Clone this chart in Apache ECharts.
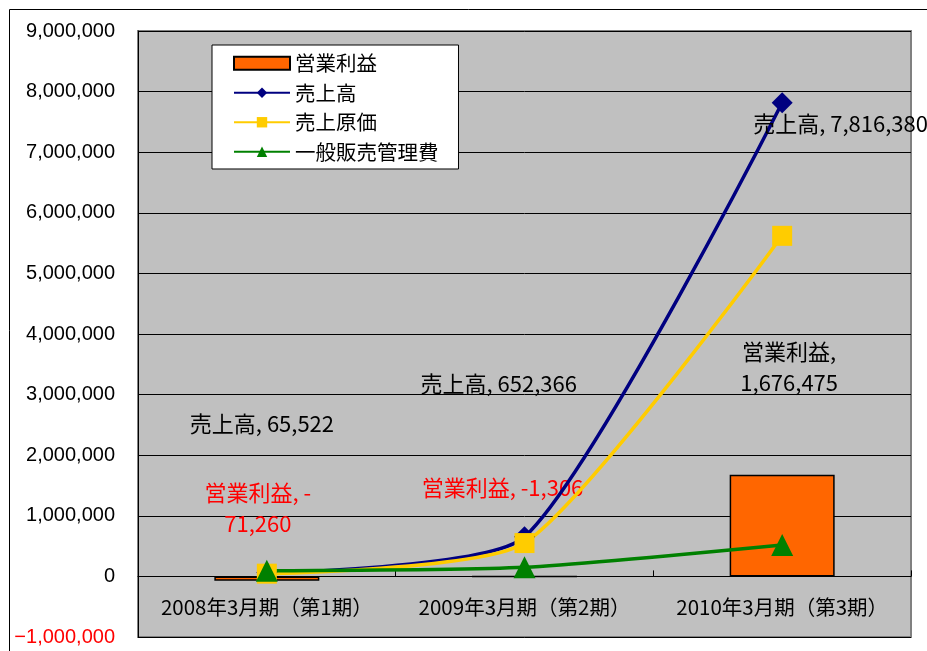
<!DOCTYPE html>
<html>
<head>
<meta charset="utf-8">
<script src="https://cdn.jsdelivr.net/npm/echarts@6/dist/echarts.min.js"></script>
<style>
html,body{margin:0;padding:0;background:#fff;}
#chart{width:927px;height:651px;}
</style>
</head>
<body>
<div id="chart"></div>
<script>
// ---- data ----
const categories = ['2008年3月期（第1期）', '2009年3月期（第2期）', '2010年3月期（第3期）'];
const operatingProfit = [-71260, -1306, 1676475];   // 営業利益
const sales = [65522, 652366, 7816380];             // 売上高
const costOfSales = [45000, 550000, 5620000];       // 売上原価
const sgaExpenses = [92000, 150000, 520000];        // 一般販売管理費
const yTicks = [-1000000, 0, 1000000, 2000000, 3000000, 4000000, 5000000, 6000000, 7000000, 8000000, 9000000];
const seriesNames = ['営業利益', '売上高', '売上原価', '一般販売管理費'];

// ---- label placement (styles, not data) ----
const salesLabelOffsets = [[-77, -149], [-104, -153], [-29, 21]];
const profitLabelOffsets = [[-9, -70], [-22, -89], [7, -158]];

const fmt = v => {
  const s = Math.abs(v).toLocaleString('en-US');
  return v < 0 ? '-' + s : s;
};
const fmtAxis = v => {
  const s = Math.abs(v).toLocaleString('en-US');
  return v < 0 ? '\u2212' + s : s;
};

const labelFont = { fontFamily: 'Noto Sans CJK JP', fontSize: 22 };

const profitData = operatingProfit.map((v, i) => ({
  value: v,
  label: {
    show: true,
    position: 'inside',
    offset: profitLabelOffsets[i],
    align: 'center',
    verticalAlign: 'middle',
    lineHeight: 31,
    color: v < 0 ? '#ff0000' : '#000000',
    ...labelFont,
    formatter: (i === 1)
      ? seriesNames[0] + ', ' + fmt(v)
      : (v < 0 ? seriesNames[0] + ', -\n' + Math.abs(v).toLocaleString('en-US')
               : seriesNames[0] + ',\n' + fmt(v))
  }
}));

const salesData = sales.map((v, i) => ({
  value: v,
  label: {
    show: true,
    position: 'inside',
    offset: salesLabelOffsets[i],
    align: 'left',
    verticalAlign: 'middle',
    color: '#000',
    ...labelFont,
    formatter: seriesNames[1] + ', ' + fmt(v)
  }
}));

const chart = echarts.init(document.getElementById('chart'), null, { renderer: 'canvas' });
chart.setOption({
  animation: false,
  backgroundColor: '#ffffff',
  graphic: [{
    type: 'rect',
    z: -10,
    shape: { x: 9.5, y: 9.5, width: 1200, height: 1200 },
    style: { fill: 'none', stroke: '#000', lineWidth: 1 }
  }],
  grid: {
    left: 138, right: 16, top: 31, bottom: 14,
    containLabel: false,
    outerBoundsMode: 'none',
    show: true,
    backgroundColor: '#c0c0c0',
    borderColor: '#808080',
    borderWidth: 2
  },
  legend: {
    data: [
      { name: seriesNames[0], icon: 'rect' },
      { name: seriesNames[1] },
      { name: seriesNames[2] },
      { name: seriesNames[3] }
    ],
    orient: 'vertical',
    left: 212, top: 45,
    backgroundColor: '#ffffff',
    borderColor: '#000000',
    borderWidth: 1,
    padding: [8, 20, 7, 21],
    itemWidth: 56,
    itemHeight: 13,
    itemGap: 9,
    textStyle: { fontFamily: 'Noto Sans CJK JP', fontSize: 20.5, color: '#000' }
  },
  xAxis: {
    type: 'category',
    data: categories,
    boundaryGap: true,
    axisLine: { show: true, onZero: true, lineStyle: { color: '#000', width: 1 } },
    axisTick: { show: true, inside: true, length: 6, lineStyle: { color: '#000' } },
    axisLabel: {
      interval: 0,
      hideOverlap: false,
      margin: -30,
      color: '#000',
      fontFamily: 'Noto Sans CJK JP',
      fontSize: 20.5,
      verticalAlign: 'middle'
    },
    splitLine: { show: false }
  },
  yAxis: {
    type: 'value',
    min: yTicks[0],
    max: yTicks[yTicks.length - 1],
    interval: yTicks[1] - yTicks[0],
    axisLine: { show: true, lineStyle: { color: '#000' } },
    axisTick: { show: true, inside: true, length: 5, lineStyle: { color: '#000' } },
    axisLabel: {
      margin: 23,
      fontFamily: 'Liberation Sans',
      fontSize: 20,
      color: v => (v < 0 ? '#ff0000' : '#000000'),
      formatter: fmtAxis
    },
    splitLine: { show: true, lineStyle: { color: '#000', width: 1 } }
  },
  series: [
    {
      name: seriesNames[0],
      type: 'bar',
      data: profitData,
      barWidth: 105,
      itemStyle: { color: '#ff6600', borderColor: '#000', borderWidth: 1.5 }
    },
    {
      name: seriesNames[1],
      type: 'line',
      data: salesData,
      smooth: 0.2,
      symbol: 'diamond',
      symbolSize: 21,
      lineStyle: { color: '#000080', width: 3.5 },
      itemStyle: { color: '#000080' }
    },
    {
      name: seriesNames[2],
      type: 'line',
      data: costOfSales,
      smooth: 0.2,
      symbol: 'rect',
      symbolSize: 20,
      lineStyle: { color: '#ffcc00', width: 3.5 },
      itemStyle: { color: '#ffcc00' }
    },
    {
      name: seriesNames[3],
      type: 'line',
      data: sgaExpenses,
      smooth: 0.2,
      symbol: 'triangle',
      symbolSize: 22,
      lineStyle: { color: '#008000', width: 3.5 },
      itemStyle: { color: '#008000' }
    }
  ]
});
</script>
</body>
</html>
